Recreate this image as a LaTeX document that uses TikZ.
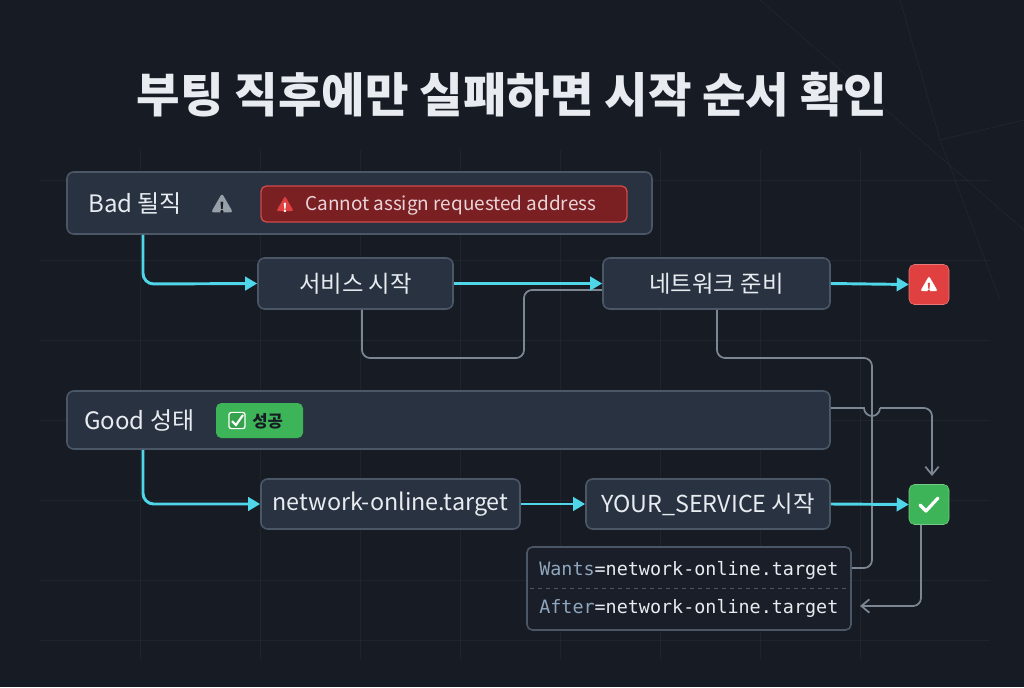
\documentclass[tikz,border=0pt]{standalone}
\usepackage{fontspec}
\setmainfont{Noto Sans CJK KR}
\setmonofont{DejaVu Sans Mono}
\usetikzlibrary{arrows.meta,shapes.geometric}
\definecolor{bg}{HTML}{161B24}
\definecolor{boxf}{HTML}{283240}
\definecolor{boxd}{HTML}{4B5666}
\definecolor{cyan}{HTML}{4FD6E8}
\definecolor{conn}{HTML}{7D8794}
\definecolor{txt}{HTML}{E8ECF1}
\definecolor{redf}{HTML}{7A1F22}
\definecolor{redd}{HTML}{D24A4A}
\definecolor{redi}{HTML}{E04040}
\definecolor{grn}{HTML}{3DB457}
\definecolor{keyc}{HTML}{8FA6BE}
\begin{document}
\begin{tikzpicture}[x=0.75pt,y=-0.75pt,
  box/.style={draw=boxd,fill=boxf,line width=1.2pt,rounded corners=5pt,text=txt,font=\fontsize{17.5}{20}\selectfont},
  flow/.style={cyan,line width=2.2pt,-{Triangle[length=9pt,width=10pt]}},
  gconn/.style={conn,line width=1.3pt,rounded corners=6pt},
  lbl/.style={text=txt,anchor=west,inner sep=0pt}]
\fill[bg] (0,0) rectangle (1024,687);
\useasboundingbox (0,0) rectangle (1024,687);
% faint grid
\foreach \x in {140,260,360,460,560,660,760,860}{\draw[white,opacity=0.04] (\x,150)--(\x,660);}
\foreach \y in {180,260,340,420,500,580,640}{\draw[white,opacity=0.04] (40,\y)--(990,\y);}
\draw[white,opacity=0.06] (760,0)--(1024,230) (900,0)--(940,140)--(1024,120) (940,140)--(1000,300);
% title
\node[text=txt,font=\bfseries\fontsize{35.5}{40}\selectfont] (title) at (512,95) {부팅 직후에만 실패하면 시작 순서 확인};
% Bad box
\node[box,minimum width=585*0.75pt,minimum height=62*0.75pt] (bad) at (359.5,203) {};
\node[lbl,font=\fontsize{18}{20}\selectfont] (badt) at (88,204) {Bad 될직};
\node[fill=conn!80!white,regular polygon,regular polygon sides=3,inner sep=0pt,minimum size=19pt,rounded corners=2pt] (warn1) at (222,206) {};
\node[text=bg,font=\bfseries\fontsize{11}{12}\selectfont] at (222,208) {!};
\node[draw=redd,fill=redf,rounded corners=4pt,line width=1pt,minimum width=366*0.75pt,minimum height=36*0.75pt] (err) at (444,204) {};
\node[fill=redi,regular polygon,regular polygon sides=3,inner sep=0pt,minimum size=15pt,rounded corners=1.5pt] (warn2) at (285,206) {};
\node[text=white,font=\bfseries\fontsize{9}{10}\selectfont] at (285,207.5) {!};
\node[lbl,text=txt!90!red,font=\fontsize{14.2}{16}\selectfont] (errt) at (305,205) {Cannot assign requested address};
% row 1
\node[box,minimum width=195*0.75pt,minimum height=51*0.75pt] (svc) at (355.5,283.5) {서비스 시작};
\node[box,minimum width=227*0.75pt,minimum height=51*0.75pt] (net) at (716.5,283.5) {네트워크 준비};
\node[fill=redi,draw=redi!70!white,rounded corners=4pt,minimum size=30pt] (fail) at (929,284.5) {};
\node[fill=white,regular polygon,regular polygon sides=3,inner sep=0pt,minimum size=15pt,rounded corners=1.5pt] at (929,286) {};
\node[text=redi,font=\bfseries\fontsize{9}{10}\selectfont] at (929,287.5) {!};
% Good box
\node[box,minimum width=763*0.75pt,minimum height=58*0.75pt] (good) at (448.5,420) {};
\node[lbl,font=\fontsize{18}{20}\selectfont] (goodt) at (84,420) {Good 성태};
\node[fill=grn,rounded corners=4pt,minimum width=87*0.75pt,minimum height=35*0.75pt] (okp) at (259.5,420.5) {};
\node[fill=white,rounded corners=2pt,minimum size=13pt,inner sep=0pt] (okb) at (237,420.5) {};
\node[fill=grn!90!black,rounded corners=1.5pt,minimum size=11pt,inner sep=0pt] at (237,420.5) {};
\draw[white,line width=1.6pt] (232,421)--(236,425)--(243,415);
\node[lbl,font=\bfseries\fontsize{12.5}{14}\selectfont,text=bg] (okt) at (252,421) {성공};
% row 2
\node[box,minimum width=259*0.75pt,minimum height=50*0.75pt] (nol) at (390.5,504) {network-online.target};
\node[box,minimum width=244*0.75pt,minimum height=50*0.75pt] (ys) at (708,504) {YOUR\_SERVICE 시작};
\node[fill=grn,draw=grn!70!white,rounded corners=4pt,minimum size=30pt] (ok) at (929,504.5) {};
\draw[white,line width=2.4pt,line cap=round,line join=round] (920,505)--(926,511)--(938,498);
% code box
\node[draw=boxd,fill=bg!85!boxf,line width=1.2pt,rounded corners=4pt,minimum width=324*0.75pt,minimum height=83*0.75pt] (code) at (689,588.5) {};
\draw[boxd,dashed] (530,588)--(848,588);
\node[lbl,font=\ttfamily\fontsize{13.8}{15}\selectfont] (w) at (539,570) {\textcolor{keyc}{Wants}=network-online.target};
\node[lbl,font=\ttfamily\fontsize{13.8}{15}\selectfont] (a) at (539,608) {\textcolor{keyc}{After}=network-online.target};
% gray connectors
\draw[gconn] (svc.south -| 362,0) -- (362,358) -- (524,358) -- (524,290) -- (560,290) -- (net.west |- 0,290);
\draw[gconn] (net.south -| 717,0) -- (717,358) -- (872,358) -- (872,568) -- (code.east |- 0,568);
\draw[conn,line width=1.3pt] (good.east |- 0,408) -- (864,408) arc[start angle=180,end angle=0,radius=8];
\draw[conn,line width=1.3pt,-{Straight Barb[length=6pt,width=10pt]},rounded corners=6pt] (880,408) -- (932,408) -- (932,476);
\draw[conn,line width=1.3pt,-{Straight Barb[length=6pt,width=10pt]},rounded corners=6pt] (ok.south -| 921,0) -- (921,606) -- (860,606);
% cyan flows
\draw[flow,rounded corners=8pt] (bad.south -| 143,0) -- (143,284) -- (svc.west);
\draw[flow] (svc.east) -- (net.west);
\draw[flow] (net.east) -- (fail.west);
\draw[flow,rounded corners=8pt] (good.south -| 143,0) -- (143,504) -- (nol.west);
\draw[flow] (nol.east) -- (ys.west);
\draw[flow] (ys.east) -- (ok.west);
\end{tikzpicture}
\end{document}
